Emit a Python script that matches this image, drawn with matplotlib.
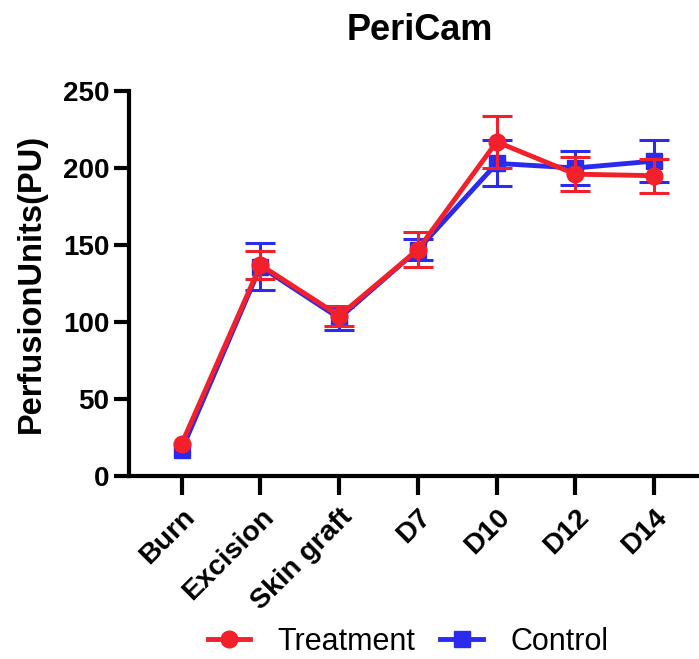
import matplotlib
matplotlib.use("Agg")
import matplotlib.pyplot as plt
from matplotlib.lines import Line2D

categories = ["Burn", "Excision", "Skin graft", "D7", "D10", "D12", "D14"]
treatment_mean = [21, 137, 104, 147, 217, 196, 195]
treatment_err = [float('nan'), 9, 6.5, 11.5, 17, 11, 11]
control_mean = [17, 136, 102.5, 147, 203, 200, 204.5]
control_err = [float('nan'), 15, 7.5, 7, 15, 11, 13.5]
yticks = [0, 50, 100, 150, 200, 250]

plt.rcParams['font.family'] = ['Liberation Sans', 'DejaVu Sans']

RED = '#F2202A'
BLUE = '#2B2BF0'

fig = plt.figure(figsize=(6.99, 6.59), dpi=100)
ax = fig.add_axes([129/699, 1-476/659, 1-129/699, (476-91)/659])

x = list(range(len(categories)))
ax.errorbar(x, control_mean, yerr=control_err, color=BLUE, lw=3.5,
            marker='s', markersize=11, capsize=11, elinewidth=2.2,
            capthick=2.2, zorder=3)
ax.errorbar(x, treatment_mean, yerr=treatment_err, color=RED, lw=3.5,
            marker='o', markersize=12, capsize=11, elinewidth=2.2,
            capthick=2.2, zorder=4)

ax.set_xlim(-0.67, 6.57)
ax.set_ylim(0, 250)
ax.set_yticks(yticks)
ax.set_xticks(x)
ax.set_xticklabels(categories, rotation=45, ha='right', rotation_mode='anchor',
                   fontweight='bold', fontsize=20.5)
for lab in ax.get_yticklabels():
    lab.set_fontweight('bold')
    lab.set_fontsize(20)

for s in ['top', 'right']:
    ax.spines[s].set_visible(False)
for s in ['left', 'bottom']:
    ax.spines[s].set_linewidth(3)
ax.tick_params(axis='both', width=3, length=11, pad=3)
ax.tick_params(axis='x', length=14, pad=6)

ax.set_ylabel('PerfusionUnits(PU)', fontsize=23.5, fontweight='bold', labelpad=12)
fig.text(420/699, 1-30/659, 'PeriCam', fontsize=26, fontweight='bold',
         ha='center', va='center')

ht = Line2D([], [], color=RED, lw=3.5, marker='o', markersize=12)
hc = Line2D([], [], color=BLUE, lw=3.5, marker='s', markersize=11)
fig.legend([ht, hc], ['Treatment', 'Control'], loc='center',
           bbox_to_anchor=(408/699, 1-642/659), ncol=2, frameon=False,
           fontsize=22, handlelength=1.4, handletextpad=0.9, columnspacing=0.8)

fig.savefig('out.png', dpi=100)
